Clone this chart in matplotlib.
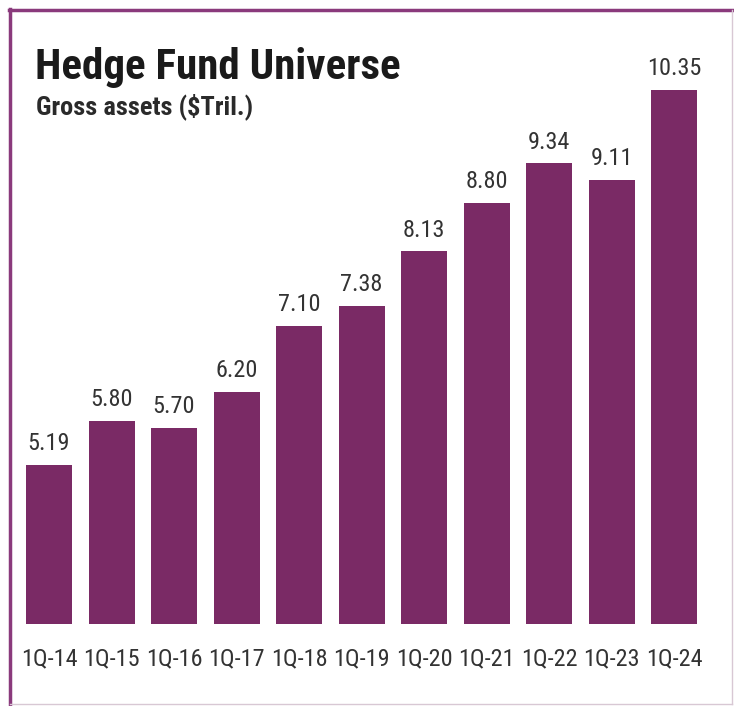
import matplotlib
matplotlib.use("Agg")
import matplotlib.pyplot as plt
from matplotlib.lines import Line2D

categories = ["1Q-14", "1Q-15", "1Q-16", "1Q-17", "1Q-18", "1Q-19", "1Q-20", "1Q-21", "1Q-22", "1Q-23", "1Q-24"]
values = [5.19, 5.80, 5.70, 6.20, 7.10, 7.38, 8.13, 8.80, 9.34, 9.11, 10.35]
value_labels = ["5.19", "5.80", "5.70", "6.20", "7.10", "7.38", "8.13", "8.80", "9.34", "9.11", "10.35"]

W, H = 734, 706
fam = ["Roboto Condensed", "DejaVu Sans"]
plt.rcParams['font.family'] = fam

fig = plt.figure(figsize=(W / 100, H / 100), dpi=100)
fig.patch.set_facecolor("white")

# axes placement in pixels
x_left, x_right = 17.75, 705.25
y_bottom, y_top = 624, 40
ax = fig.add_axes([x_left / W, (H - y_bottom) / H, (x_right - x_left) / W, (y_bottom - y_top) / H])
ymin = 3.0
scale = (624 - 90) / (10.35 - ymin)
ymax = ymin + (y_bottom - y_top) / scale

bar_color = "#7a2a65"
xs = list(range(len(categories)))
ax.bar(xs, [v - ymin for v in values], bottom=ymin, width=0.736, color=bar_color)
ax.set_xlim(-0.5, len(categories) - 0.5)
ax.set_ylim(ymin, ymax)
for s in ax.spines.values():
    s.set_visible(False)
ax.set_yticks([])
ax.set_xticks(xs)
ax.set_xticklabels(categories, fontsize=17.5, color="#333333", family=fam)
ax.tick_params(axis="x", length=0, pad=17)
ax.patch.set_alpha(0)

for x, v, lab in zip(xs, values, value_labels):
    ax.annotate(lab, (x, v), xytext=(0, 7), textcoords="offset points",
                ha="center", va="bottom", fontsize=17.5, color="#333333", family=fam)

# titles
fig.text(35 / W, 1 - 79 / H, "Hedge Fund Universe", fontsize=31, fontweight="bold",
         color="#1a1a1a", family=fam, ha="left", va="baseline")
fig.text(36 / W, 1 - 114 / H, "Gross assets ($Tril.)", fontsize=19, fontweight="bold",
         color="#2a2a2a", family=fam, ha="left", va="baseline")

# frame
purple = "#8a3a7c"
fig.add_artist(Line2D([10 / W, 10 / W], [0, 1 - 9 / H], color=purple, lw=2.5, transform=fig.transFigure))
fig.add_artist(Line2D([9 / W, 1], [1 - 10 / H, 1 - 10 / H], color=purple, lw=2.5, transform=fig.transFigure))
fig.add_artist(Line2D([732 / W, 732 / W], [1 - 10 / H, 2 / H], color="#d8c8d4", lw=1, transform=fig.transFigure))
fig.add_artist(Line2D([10 / W, 732 / W], [2 / H, 2 / H], color="#d8c8d4", lw=1, transform=fig.transFigure))

fig.savefig("out.png", dpi=100, facecolor="white")
